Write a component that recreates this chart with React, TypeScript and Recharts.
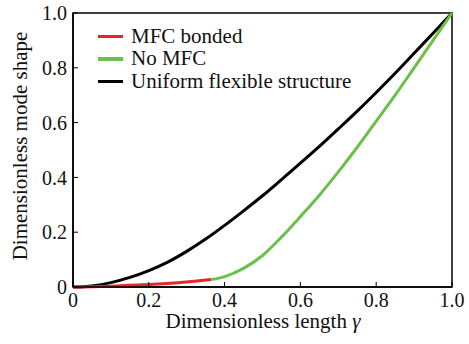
import { LineChart, Line, XAxis, YAxis, ReferenceArea } from "recharts";

// black: uniform flexible structure
const uniformX = [0, 0.05, 0.1, 0.15, 0.2, 0.25, 0.3, 0.35, 0.4, 0.45, 0.5, 0.55, 0.6, 0.65, 0.7, 0.75, 0.8, 0.85, 0.9, 0.95, 1.0];
const uniformY = [0, 0.004, 0.016, 0.035, 0.06, 0.091, 0.13, 0.175, 0.225, 0.278, 0.333, 0.392, 0.452, 0.513, 0.577, 0.642, 0.71, 0.78, 0.853, 0.926, 1.0];

// red: MFC bonded section
const bondedX = [0, 0.05, 0.1, 0.15, 0.2, 0.25, 0.3, 0.365];
const bondedY = [0, 0.001, 0.003, 0.006, 0.009, 0.013, 0.018, 0.027];

// green: no MFC section
const noMfcX = [0.365, 0.4, 0.45, 0.5, 0.55, 0.6, 0.65, 0.7, 0.75, 0.8, 0.85, 0.9, 0.95, 1.0];
const noMfcY = [0.027, 0.038, 0.068, 0.115, 0.182, 0.257, 0.335, 0.42, 0.51, 0.605, 0.7, 0.8, 0.9, 1.0];

const xTicks = [0, 0.2, 0.4, 0.6, 0.8, 1.0];
const yTicks = [0, 0.2, 0.4, 0.6, 0.8, 1.0];

const legendItems = [
  { name: "MFC bonded", color: "#e8262a" },
  { name: "No MFC", color: "#6cc04a" },
  { name: "Uniform flexible structure", color: "#000000" },
];

const FONT = "Liberation Serif";

const zip = (xs: number[], ys: number[]) => xs.map((x, i) => ({ x, y: ys[i] }));

const fmt = (v: number) => (v === 0 ? "0" : v.toFixed(1));

export default function App() {
  return (
    <div style={{ position: "absolute", left: 0, top: 0, width: 469, height: 344, background: "#fff", fontFamily: FONT }}>
      <LineChart width={469} height={344} margin={{ top: 13, right: 17, bottom: 0, left: 0 }}>
        <XAxis
          type="number"
          dataKey="x"
          domain={[0, 1]}
          ticks={xTicks}
          tickFormatter={fmt}
          height={57}
          tickSize={-5}
          tickMargin={11}
          axisLine={{ stroke: "#000", strokeWidth: 1.5 }}
          tickLine={{ stroke: "#000", strokeWidth: 1 }}
          tick={{ fill: "#111", fontSize: 20, fontFamily: FONT }}
          allowDuplicatedCategory={false}
        />
        <YAxis
          type="number"
          dataKey="y"
          domain={[0, 1]}
          ticks={yTicks}
          tickFormatter={fmt}
          width={73}
          tickSize={-5}
          tickMargin={11}
          axisLine={{ stroke: "#000", strokeWidth: 1.5 }}
          tickLine={{ stroke: "#000", strokeWidth: 1 }}
          tick={{ fill: "#111", fontSize: 20, fontFamily: FONT }}
          label={{
            value: "Dimensionless mode shape",
            angle: -90,
            position: "insideLeft",
            offset: 20,
            dy: -4,
            style: { textAnchor: "middle", fontFamily: FONT },
            fill: "#111",
            fontSize: 21,
          }}
        />
        <ReferenceArea x1={0} x2={1} y1={0} y2={1} fill="none" stroke="#000" strokeWidth={1.5} ifOverflow="visible" />
        <Line
          data={zip(uniformX, uniformY)}
          dataKey="y"
          type="monotone"
          stroke="#000"
          strokeWidth={3}
          dot={false}
          isAnimationActive={false}
        />
        <Line
          data={zip(bondedX, bondedY)}
          dataKey="y"
          type="monotone"
          stroke="#e8262a"
          strokeWidth={3}
          dot={false}
          isAnimationActive={false}
        />
        <Line
          data={zip(noMfcX, noMfcY)}
          dataKey="y"
          type="monotone"
          stroke="#6cc04a"
          strokeWidth={3}
          dot={false}
          isAnimationActive={false}
        />
      </LineChart>
      <div
        style={{
          position: "absolute",
          left: 63,
          width: 400,
          top: 310,
          textAlign: "center",
          fontFamily: FONT,
          fontSize: 21,
          color: "#111",
          lineHeight: "22px",
        }}
      >
        Dimensionless length <i>γ</i>
      </div>
      <div style={{ position: "absolute", left: 98, top: 25, fontFamily: FONT, fontSize: 21, color: "#111" }}>
        {legendItems.map((it) => (
          <div key={it.name} style={{ display: "flex", alignItems: "center", height: 22.5 }}>
            <span style={{ display: "inline-block", width: 25, height: 3.5, background: it.color, marginRight: 8 }} />
            <span>{it.name}</span>
          </div>
        ))}
      </div>
    </div>
  );
}
